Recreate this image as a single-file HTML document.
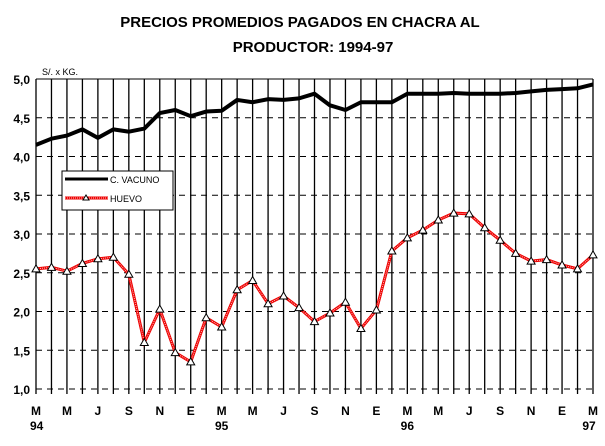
<!DOCTYPE html>
<html><head><meta charset="utf-8"><style>
body{margin:0;background:#fff}
svg text{font-family:"Liberation Sans",Arial,sans-serif}
</style></head><body>
<svg width="605" height="441" viewBox="0 0 605 441">
<text x="300" y="27" text-anchor="middle" font-size="15" font-weight="bold">PRECIOS PROMEDIOS PAGADOS EN CHACRA  AL</text>
<text x="313" y="52" text-anchor="middle" font-size="15" font-weight="bold">PRODUCTOR: 1994-97</text>
<text x="42" y="75" font-size="9">S/. x KG.</text>
<g id="grid"></g><g id="series"></g><g id="labels"></g>
<g>
<rect x="62" y="171" width="111" height="39" fill="#fff" stroke="#000" stroke-width="1"/>
<line x1="65" y1="179" x2="108" y2="179" stroke="#000" stroke-width="3"/>
<text x="110" y="183" font-size="9">C. VACUNO</text>
<line x1="65" y1="198" x2="108" y2="198" stroke="#e00" stroke-width="3"/>
<line x1="65" y1="198" x2="108" y2="198" stroke="#fbb" stroke-width="1" stroke-dasharray="1,1"/>
<path d="M86,195 l-3,5 h6 z" fill="#fff" stroke="#000" stroke-width="1"/>
<text x="110" y="202" font-size="9">HUEVO</text>
</g>
</svg>
<script>
const months=["M","A","M","J","J","A","S","O","N","D","E","F","M","A","M","J","J","A","S","O","N","D","E","F","M","A","M","J","J","A","S","O","N","D","E","F","M"];
const yearLabels={0:"94",12:"95",24:"96",36:"97"};
const yTicks=[1.0,1.5,2.0,2.5,3.0,3.5,4.0,4.5,5.0];
const vacuno=[4.15,4.23,4.27,4.35,4.24,4.35,4.32,4.36,4.56,4.60,4.52,4.58,4.59,4.73,4.70,4.74,4.73,4.75,4.81,4.66,4.60,4.70,4.70,4.70,4.81,4.81,4.81,4.82,4.81,4.81,4.81,4.82,4.84,4.86,4.87,4.88,4.93];
const huevo=[2.55,2.57,2.52,2.62,2.68,2.70,2.48,1.60,2.03,1.47,1.35,1.92,1.80,2.28,2.40,2.10,2.20,2.05,1.87,1.98,2.12,1.78,2.02,2.78,2.95,3.05,3.18,3.27,3.26,3.08,2.92,2.75,2.65,2.67,2.60,2.55,2.73];
const X0=36,X1=593,Y0=389,Y1=79;
const xs=i=>X0+(X1-X0)*i/(months.length-1);
const ys=v=>Y0-(v-1)*(Y0-Y1)/4;
const NS="http://www.w3.org/2000/svg";
function mk(t,a,p){const e=document.createElementNS(NS,t);for(const k in a)e.setAttribute(k,a[k]);p.appendChild(e);return e;}
const grid=document.getElementById('grid'),ser=document.getElementById('series'),lab=document.getElementById('labels');
yTicks.forEach((v,i)=>{
 const l=mk('line',{x1:X0,x2:X1,y1:ys(v),y2:ys(v),stroke:'#000','stroke-width':1},grid);
 if(v>1&&v<5)l.setAttribute('stroke-dasharray','6,5');
 if(v==1){l.setAttribute('stroke-dasharray','6,5');}
 
 
 const t=mk('text',{x:30,y:ys(v)+5,'text-anchor':'end','font-size':12,'font-weight':'bold'},lab);
 t.textContent=v.toFixed(1).replace('.',',');
 
 
});
months.forEach((m,i)=>{
 const l=mk('line',{x1:xs(i),x2:xs(i),y1:Y1,y2:Y0+5,stroke:'#000','stroke-width':1.3},grid);
 
 
 if(i%2==0){
  const t=mk('text',{x:xs(i),y:415,'text-anchor':'middle','font-size':12,'font-weight':'bold'},lab);
  t.textContent=m;
  
  
 }
 if(yearLabels[i]){
  const t=mk('text',{x:xs(i)+(i==0?-1:i==36?-4:0),y:430,'text-anchor':i==0?'start':'middle','font-size':12,'font-weight':'bold'},lab);
  if(i==0)t.setAttribute('x',30);
  t.textContent=yearLabels[i];
  
  
 }
});
const pts=a=>a.map((v,i)=>xs(i)+','+ys(v)).join(' ');
const vl=mk('polyline',{points:pts(vacuno),fill:'none',stroke:'#000','stroke-width':4,'stroke-linejoin':'round'},ser);


const hl=mk('polyline',{points:pts(huevo),fill:'none',stroke:'#e00','stroke-width':3},ser);


mk('polyline',{points:pts(huevo),fill:'none',stroke:'#fbb','stroke-width':1,'stroke-dasharray':'1,1'},ser);
huevo.forEach((v,i)=>{
 const p=mk('path',{d:`M${xs(i)},${ys(v)-4} l-4,7 h8 z`,fill:'#fff',stroke:'#000','stroke-width':1},ser);
 
 
});
</script>
</body></html>
